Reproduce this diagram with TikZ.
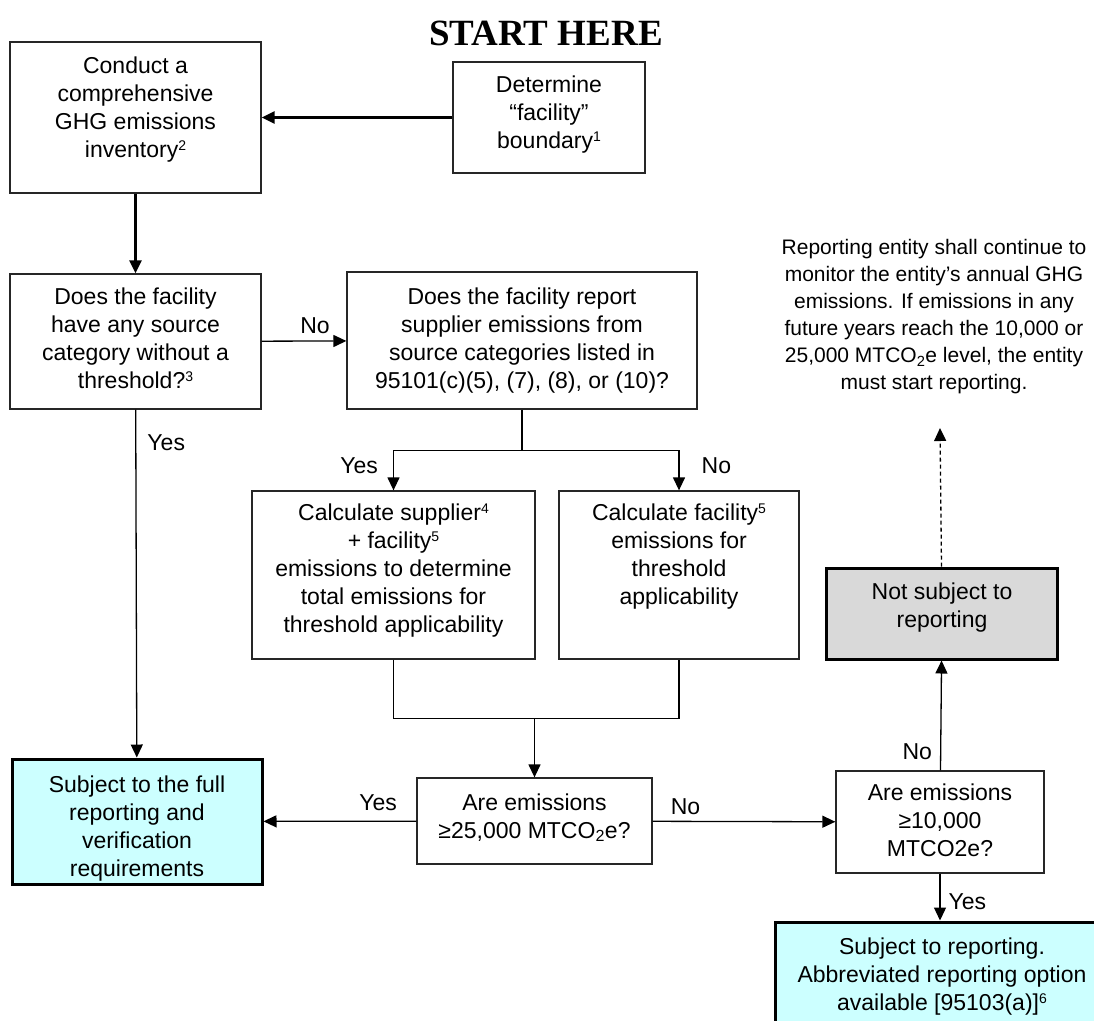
\documentclass[tikz,border=0pt]{standalone}
\usepackage{fontspec}
\setmainfont{Liberation Sans}
\newfontfamily\headfont{Liberation Serif}
\usetikzlibrary{arrows.meta, positioning}
\definecolor{fullcyan}{HTML}{CCFFFF}
\definecolor{notgray}{HTML}{D9D9D9}
% box text: width, height, first baseline, lines
\newcommand{\boxlines}[4]{\parbox[c][#2][t]{#1}{\centering\rule{0pt}{#3}#4}}
\newcommand{\fnote}[1]{\raisebox{6.5pt}{\fontsize{14}{14}\selectfont #1}}
\tikzstyle{process} = [rectangle, draw=black!85, line width=1.3pt, inner sep=0pt, font=\fontsize{23}{28}\selectfont]
\tikzstyle{result} = [process, draw=black, line width=3pt]
\tikzstyle{arrow} = [line width=1.3pt, -{Triangle[length=13pt,width=12pt]}]
\tikzstyle{boldarrow} = [arrow, line width=2.6pt]
\tikzstyle{link} = [line width=1.3pt]
\tikzstyle{answer} = [inner sep=0pt, font=\fontsize{23}{28}\selectfont]

\begin{document}
\begin{tikzpicture}[x=1pt, y=-1pt]
\useasboundingbox (0,0) rectangle (1094,1020);

\node (title) [anchor=base, font=\headfont\bfseries\fontsize{37}{40}\selectfont] at (546,45) {START HERE};

\node (conduct) [process, minimum width=251pt] at (135.5,117.5) {\boxlines{240pt}{151pt}{31pt}{Conduct a\\comprehensive\\GHG emissions\\inventory\fnote{2}}};
\node (boundary) [process, minimum width=192pt] at (549,117.5) {\boxlines{185pt}{111pt}{30pt}{Determine\\“facility”\\boundary\fnote{1}}};
\node (nothresh) [process, minimum width=251pt] at (135.5,341.5) {\boxlines{240pt}{135pt}{30pt}{Does the facility\\have any source\\category without a\\threshold?\fnote{3}}};
\node (supplier) [process, minimum width=350pt] at (522,340.5) {\boxlines{340pt}{137pt}{32pt}{Does the facility report\\supplier emissions from\\source categories listed in\\95101(c)(5), (7), (8), or (10)?}};
\node (calcboth) [process, minimum width=283pt] at (393.5,575) {\boxlines{275pt}{168pt}{29pt}{Calculate supplier\fnote{4}\\+ facility\fnote{5}\\emissions to determine\\total emissions for\\threshold applicability}};
\node (calcfac) [process, minimum width=240pt] at (679,575) {\boxlines{232pt}{168pt}{29pt}{Calculate facility\fnote{5}\\emissions for\\threshold\\applicability}};
\node (over25) [process, minimum width=235pt] at (534.5,821) {\boxlines{228pt}{86pt}{32pt}{Are emissions\\≥25,000 MTCO\textsubscript{2}e?}};
\node (fullrep) [result, fill=fullcyan, minimum width=250pt] at (137,821.5) {\boxlines{240pt}{125pt}{33pt}{Subject to the full\\reporting and\\verification\\requirements}};
\node (over10) [process, minimum width=208pt] at (940,822) {\boxlines{200pt}{102pt}{29pt}{Are emissions\\≥10,000\\MTCO2e?}};
\node (notsubj) [result, fill=notgray, minimum width=231pt] at (942,613.5) {\boxlines{222pt}{91pt}{31pt}{Not subject to\\reporting}};
\node (abbrev) [result, fill=fullcyan, minimum width=350pt] at (950,981) {\boxlines{325pt}{118pt}{32pt}{\hspace*{-16pt}Subject to reporting.\\\hspace*{-16pt}Abbreviated reporting option\\\hspace*{-16pt}available [95103(a)]\fnote{6}}};

\node (monitor) [align=center, inner sep=0pt, font=\fontsize{21}{27}\selectfont] at (934,317) {Reporting entity shall continue to\\monitor the entity’s annual GHG\\emissions. If emissions in any\\future years reach the 10,000 or\\25,000 MTCO\textsubscript{2}e level, the entity\\must start reporting.};
\coordinate (upmark) at (940,428);

\draw [boldarrow] (boundary) -- (conduct);
\draw [boldarrow] (conduct) -- (nothresh);
\draw [arrow] (nothresh) -- node[answer, above=7pt, pos=0.63] {No} (supplier);
\draw [arrow] (nothresh) -- node[answer, right=11pt, pos=0.095] {Yes} (fullrep);
\draw [link] (supplier.south) -- ++(0,41) coordinate (fork);
\draw [arrow] (fork) -| node[answer, left=15pt, pos=0.69] {Yes} (calcboth);
\draw [arrow] (fork) -| node[answer, right=22pt, pos=0.69] {No} (calcfac);
\draw [link] (calcboth.south) -- ++(0,59) coordinate (merge) -| (calcfac.south);
\draw [arrow] (merge -| over25.north) -- (over25);
\draw [arrow] (over25) -- node[answer, above=10pt, pos=0.25] {Yes} (fullrep);
\draw [arrow] (over25) -- node[answer, above=6pt, pos=0.18] {No} (over10);
\draw [arrow] (over10) -- node[answer, left=8pt, pos=0.17] {No} (notsubj);
\draw [arrow] (over10.south) -- node[answer, right=8pt, pos=0.6] {Yes} (over10.south |- abbrev.north);
\draw [arrow, dash pattern=on 4pt off 3pt] (notsubj) -- (upmark);

\end{tikzpicture}
\end{document}
